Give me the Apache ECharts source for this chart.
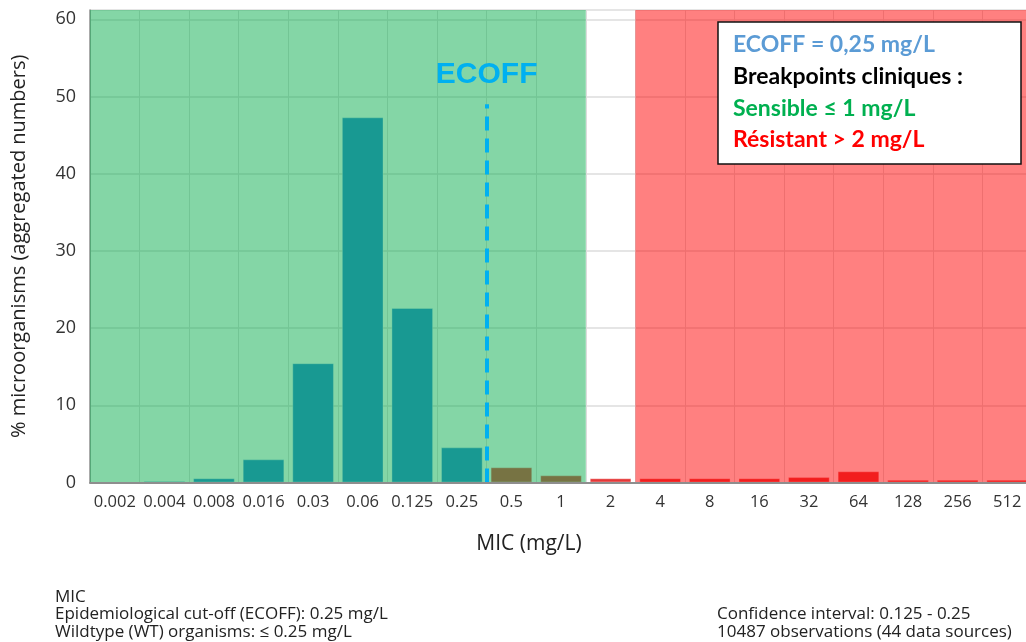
<!DOCTYPE html>
<html><head><meta charset="utf-8">
<script src="https://cdn.jsdelivr.net/npm/echarts@6/dist/echarts.min.js"></script>
<style>html,body{margin:0;padding:0;background:#fff}#c{width:1026px;height:642px}</style>
</head><body><div id="c"></div>
<script>
// ---- data ----
const categories = ['0.002','0.004','0.008','0.016','0.03','0.06','0.125','0.25','0.5','1','2','4','8','16','32','64','128','256','512'];
const percentages = [0, 0.2, 0.55, 3.0, 15.45, 47.3, 22.6, 4.55, 1.97, 0.93, 0.55, 0.55, 0.55, 0.55, 0.7, 1.45, 0.35, 0.35, 0.35];
const yTickMax = 60;
const yTickStep = 10;
const ecoffCategory = '0.25';
const susceptibleMaxCategory = '1';
const resistantAboveCategory = '2';
const ecoffLabel = 'ECOFF';
const infoLines = ['ECOFF = 0,25 mg/L', 'Breakpoints cliniques :', 'Sensible \u2264 1 mg/L', 'R\u00e9sistant > 2 mg/L'];
const footLeft = ['MIC', 'Epidemiological cut-off (ECOFF): 0.25 mg/L', 'Wildtype (WT) organisms: \u2264 0.25 mg/L'];
const footRight = ['Confidence interval: 0.125 - 0.25', '10487 observations (44 data sources)'];

// ---- derived ----
const ecoffIdx = categories.indexOf(ecoffCategory);
const sEdge = categories.indexOf(susceptibleMaxCategory) + 1;
const rEdge = categories.indexOf(resistantAboveCategory) + 1;
const nCat = categories.length;
const yMax = 61.2;

const chart = echarts.init(document.getElementById('c'), null, {renderer: 'canvas'});
const FONT = 'Open Sans';
const infoColors = ['#5b9bd5', '#000', '#00b050', '#ff0000'];
const infoY = [23, 55, 87, 118];

chart.setOption({
  animation: false,
  backgroundColor: '#fff',
  grid: {left: 90, top: 10, right: -6, bottom: 159.5, containLabel: false, outerBoundsMode: 'none'},
  xAxis: [{
    type: 'category',
    data: categories,
    boundaryGap: true,
    axisLine: {show: false},
    axisTick: {show: false},
    axisLabel: {interval: 0, color: '#333', fontFamily: FONT, fontSize: 16.5, margin: 11},
    splitLine: {show: true, interval: 0, lineStyle: {color: '#dcdcdc', width: 1}},
    name: 'MIC (mg/L)',
    nameLocation: 'middle',
    nameGap: 51,
    nameTextStyle: {color: '#222', fontFamily: FONT, fontSize: 21, padding: [0, 64, 0, 0]}
  }, {
    type: 'value',
    min: 0, max: nCat,
    position: 'bottom',
    z: 10,
    axisLine: {show: true, lineStyle: {color: '#8e8e8e', width: 2}},
    axisTick: {show: false},
    axisLabel: {show: false},
    splitLine: {show: false}
  }],
  yAxis: {
    type: 'value',
    min: 0,
    max: yMax,
    interval: yTickStep,
    axisLine: {show: true, lineStyle: {color: '#8e8e8e', width: 1.5}},
    axisTick: {show: false},
    axisLabel: {color: '#333', fontFamily: FONT, fontSize: 18, margin: 14, showMaxLabel: false},
    splitLine: {show: true, lineStyle: {color: '#dcdcdc', width: 1.5}},
    name: '% microorganisms (aggregated numbers)',
    nameLocation: 'middle',
    nameGap: 61,
    nameTextStyle: {color: '#222', fontFamily: FONT, fontSize: 20}
  },
  series: [{
    type: 'bar',
    xAxisIndex: 0,
    z: 2,
    barWidth: '84%',
    data: percentages.map((v, i) => ({
      value: v,
      itemStyle: {color: i <= ecoffIdx ? '#2784d6' : '#e53838'}
    })),
    itemStyle: {borderColor: 'rgba(255,255,255,0.35)', borderWidth: 1}
  }, {
    type: 'line',
    xAxisIndex: 1,
    z: 5,
    data: [],
    silent: true,
    markArea: {
      silent: true,
      z: 5,
      data: [
        [{xAxis: 0, yAxis: 0, itemStyle: {color: 'rgba(9,173,77,0.5)'}}, {xAxis: sEdge, yAxis: yMax}],
        [{xAxis: rEdge, yAxis: 0, itemStyle: {color: 'rgba(255,1,1,0.5)'}}, {xAxis: nCat, yAxis: yMax}]
      ]
    },
    markLine: {
      silent: true,
      z: 8,
      symbol: ['none', 'none'],
      lineStyle: {color: '#00b0f0', width: 4, type: [14, 8]},
      label: {
        show: true, position: 'end', formatter: ecoffLabel, distance: 14,
        color: '#00b0f0', fontFamily: 'Liberation Sans', fontWeight: 'bold', fontSize: 30
      },
      data: [[{coord: [ecoffIdx + 1, 0]}, {coord: [ecoffIdx + 1, 49]}]]
    }
  }],
  graphic: {
    z: 100,
    elements: [
      {type: 'rect', z: 100, shape: {x: 718, y: 22, width: 303, height: 142}, style: {fill: '#fff', stroke: '#111', lineWidth: 1.5}},
      ...infoLines.map((t, i) => ({
        type: 'text', z: 101, x: 733, y: 22 + infoY[i],
        style: {text: t, fill: infoColors[i], font: 'bold 23px Lato', textVerticalAlign: 'middle'}
      })),
      {type: 'text', z: 101, left: 55, top: 588, style: {text: footLeft.join('\n'), fill: '#222', font: '17px "Open Sans"', lineHeight: 17.5}},
      {type: 'text', z: 101, left: 717, top: 605.5, style: {text: footRight.join('\n'), fill: '#222', font: '17px "Open Sans"', lineHeight: 17.5}}
    ]
  }
});
</script></body></html>
